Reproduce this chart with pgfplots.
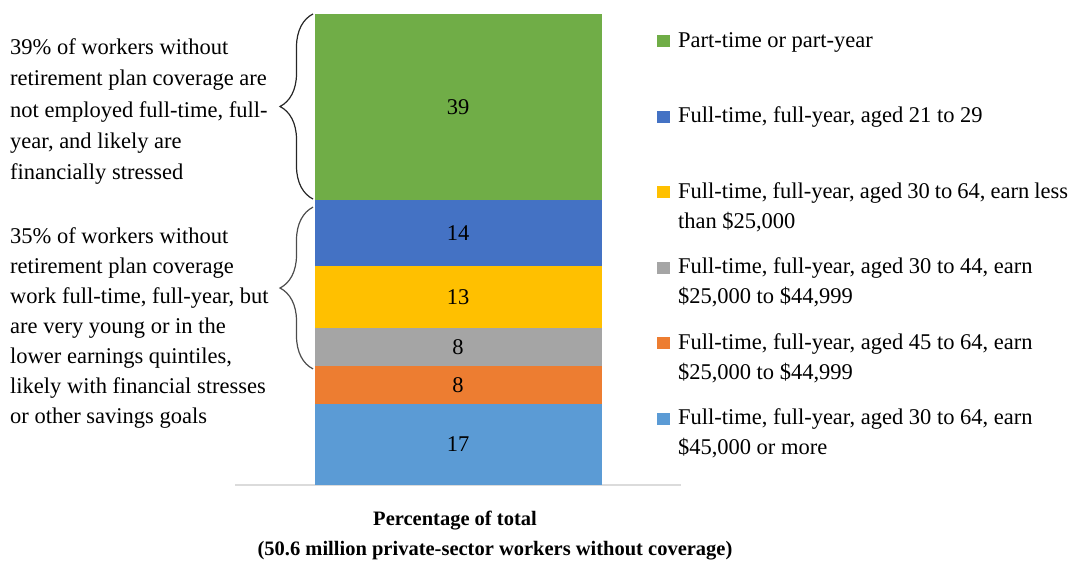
\documentclass[border=0pt]{standalone}
\usepackage{pgfplots}
\pgfplotsset{compat=1.18}
\usepackage{fontspec}
\setmainfont{Liberation Serif}
\usetikzlibrary{decorations.pathreplacing}

% Segment colours
\definecolor{segGreen}{HTML}{70AD47}
\definecolor{segBlue}{HTML}{4472C4}
\definecolor{segYellow}{HTML}{FFC000}
\definecolor{segGray}{HTML}{A5A5A5}
\definecolor{segOrange}{HTML}{ED7D31}
\definecolor{segSky}{HTML}{5B9BD5}

\newcommand{\entry}[1]{\parbox[t]{390pt}{\fontsize{22.5}{30}\selectfont\rule{0pt}{16pt}#1}}

\begin{document}
\begin{tikzpicture}
\path[use as bounding box] (0pt,0pt) rectangle (1073pt,-565pt);
\begin{axis}[
  at={(235pt,-485pt)}, anchor=south west,
  scale only axis, width=446pt, height=475.8pt,
  xmin=-223, xmax=223, ymin=0, ymax=100,
  ybar stacked, bar width=287,
  hide y axis,
  axis x line*=bottom,
  x axis line style={draw=black!14, line width=1.5pt, -},
  xtick=\empty,
  clip=false,
  point meta=explicit,
  /pgf/number format/assume math mode=true,
  nodes near coords,
  every node near coord/.append style={anchor=center, inner sep=0pt,
    font=\fontsize{22.5}{27}\selectfont, text=black},
  reverse legend,
  % square swatch; the invisible path gives every row the same pitch
  legend image code/.code={\fill[#1] (0pt,0pt) rectangle (13pt,12pt);
    \path[draw=none, fill=none] (0pt,-59.5pt) -- (0pt,16pt);},
  legend style={draw=none, fill=none, inner sep=0pt, outer sep=0pt,
     at={(axis description cs:0.9462,0.9536)}, anchor=north west,
     row sep=0pt, column sep=8pt,
     cells={anchor=base west},
     nodes={inner sep=0pt}},
]
\addplot[fill=segSky, draw=none] coordinates {(0,17) [17]};
\addlegendentry{\entry{Full-time, full-year, aged 30 to 64, earn\\\$45,000 or more}}
\addplot[fill=segOrange, draw=none] coordinates {(0,8) [8]};
\addlegendentry{\entry{Full-time, full-year, aged 45 to 64, earn\\\$25,000 to \$44,999}}
\addplot[fill=segGray, draw=none] coordinates {(0,8) [8]};
\addlegendentry{\entry{Full-time, full-year, aged 30 to 44, earn\\\$25,000 to \$44,999}}
\addplot[fill=segYellow, draw=none] coordinates {(0,13) [13]};
\addlegendentry{\entry{Full-time, full-year, aged 30 to 64, earn less\\than \$25,000}}
\addplot[fill=segBlue, draw=none] coordinates {(0,14) [14]};
\addlegendentry{\entry{Full-time, full-year, aged 21 to 29}}
\addplot[fill=segGreen, draw=none] coordinates {(0,39) [39]};
\addlegendentry{\entry{Part-time or part-year}}

% Braces grouping the segments
\draw[black!85, line width=1.2pt, decorate, decoration={brace, amplitude=33pt}]
  (axis cs:-145,60.1) -- (axis cs:-145,99);
\draw[black!70, line width=1.2pt, decorate, decoration={brace, amplitude=33pt}]
  (axis cs:-145,24.4) -- (axis cs:-145,58.4);
\end{axis}

% Annotations on the left
\node[anchor=base west, inner sep=0pt] at (10pt,-54.3pt)
  {\parbox[t]{290pt}{\fontsize{22.5}{31.4}\selectfont
   39\% of workers without\\retirement plan coverage are\\not employed full-time, full-\\year, and likely are\\financially stressed}};
\node[anchor=base west, inner sep=0pt] at (10pt,-243.3pt)
  {\parbox[t]{290pt}{\fontsize{22.5}{30}\selectfont
   35\% of workers without\\retirement plan coverage\\work full-time, full-year, but\\are very young or in the\\lower earnings quintiles,\\likely with financial stresses\\or other savings goals}};

% Axis caption
\node[anchor=base, inner sep=0pt, font=\fontsize{20.5}{26}\selectfont\bfseries]
  at (455pt,-525pt) {Percentage of total};
\node[anchor=base, inner sep=0pt, font=\fontsize{20.5}{26}\selectfont\bfseries]
  at (495pt,-555pt) {(50.6 million private-sector workers without coverage)};
\end{tikzpicture}
\end{document}
